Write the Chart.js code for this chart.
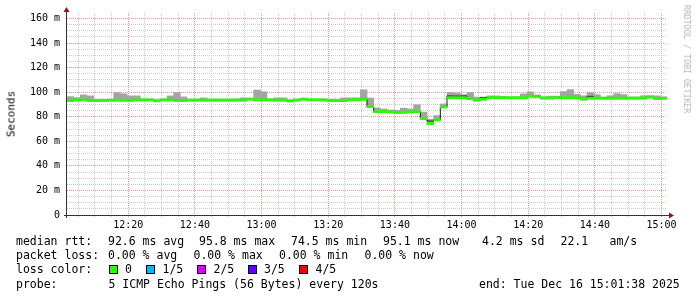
<!DOCTYPE html>
<html>
<head>
<meta charset="utf-8">
<script src="https://cdn.jsdelivr.net/npm/chart.js@4.4.1/dist/chart.umd.min.js"></script>
<style>
body { margin: 0; background: #fff; }
#wrap { position: relative; width: 697px; height: 297px; overflow: hidden; background: #fff; }
.txt { position: absolute; font-family: 'DejaVu Sans Mono', monospace; font-size: 11.5px; line-height: 14px; color: #000; white-space: pre; }
.box { position: absolute; width: 7px; height: 7px; border: 1px solid #000; }
#ylabel { position: absolute; left: 11px; top: 114px; transform: translate(-50%, -50%) rotate(-90deg); font-family: 'DejaVu Sans Mono', monospace; font-size: 11px; color: #000; white-space: pre; }
#mark { position: absolute; left: 687px; top: 59px; transform: translate(-50%, -50%) rotate(90deg); font-family: 'DejaVu Sans Mono', monospace; font-size: 8.2px; color: #b4b4b4; white-space: pre; }
</style>
</head>
<body>
<div id="wrap">
  <canvas id="chart" width="697" height="297"></canvas>
  <div id="ylabel">Seconds</div>
  <div id="mark">RRDTOOL / TOBI OETIKER</div>
</div>
<script>
// 5 pings every 120s, 3 hours ending 15:01:38 (x in minutes after 12:00)
const startMinute = 1 + 38 / 60;
const stepMinutes = 2;

const median = [
    93.3, 93.8, 93.8, 93.3, 93.3, 93.3, 93.5, 93.5, 93.5, 93.3,
    93.8, 93.8, 93.8, 93.0, 93.8, 93.8, 93.3, 93.3, 93.6, 93.6,
    93.6, 93.6, 93.6, 93.6, 93.6, 93.6, 93.6, 94.4, 93.8, 93.8,
    93.8, 93.6, 93.6, 92.9, 93.6, 94.4, 93.8, 93.8, 93.8, 93.2,
    93.2, 93.2, 93.8, 93.8, 94.3, 88.3, 84.2, 84.2, 84.0, 83.5,
    83.7, 84.0, 84.2, 78.5, 74.5, 77.5, 88.0, 95.5, 95.5, 95.5,
    94.8, 93.6, 94.4, 95.7, 95.6, 95.5, 95.5, 95.5, 95.5, 96.8,
    96.6, 95.3, 95.3, 95.8, 95.5, 95.5, 95.5, 94.4, 95.2, 95.3,
    95.2, 95.2, 95.2, 95.2, 95.3, 95.3, 95.3, 96.2, 94.8, 95.1
];

const darkLine = [
    93.3, 93.8, 93.8, 93.3, 93.3, 93.3, 93.5, 93.5, 93.5, 93.3,
    93.8, 93.8, 93.8, 93.0, 93.8, 93.8, 93.3, 93.3, 93.6, 93.6,
    93.6, 93.6, 93.6, 93.6, 93.6, 93.6, 93.6, 94.4, 93.8, 93.8,
    93.8, 93.6, 93.6, 92.9, 93.6, 94.4, 93.8, 93.8, 93.8, 93.2,
    93.2, 93.2, 93.8, 93.8, 94.3, 88.3, 84.2, 84.2, 84.0, 83.5,
    83.7, 84.0, 84.2, 78.5, 76.5, 77.5, 88.0, 96.9, 96.8, 96.9,
    94.3, 93.6, 95.8, 95.7, 95.6, 95.5, 95.5, 95.5, 95.5, 96.8,
    96.6, 95.3, 95.3, 95.8, 95.5, 95.5, 95.5, 94.4, 96.6, 95.3,
    95.2, 95.2, 95.2, 95.2, 95.3, 95.3, 95.3, 96.2, 94.8, 95.1
];

const smokeMax = [
    96.4, 95.6, 97.8, 97.0, 93.9, 93.9, 94.0, 99.7, 98.7, 97.0,
    97.0, 94.3, 94.3, 93.8, 94.3, 97.0, 99.7, 96.2, 94.2, 94.2,
    95.4, 94.2, 94.0, 94.0, 94.0, 94.5, 95.4, 95.0, 101.8, 100.3,
    94.3, 95.4, 95.4, 93.8, 94.2, 95.0, 94.3, 94.3, 94.3, 94.0,
    94.0, 95.4, 95.4, 95.4, 102.0, 95.3, 87.1, 86.3, 85.5, 85.3,
    87.0, 86.3, 89.8, 83.8, 77.9, 81.0, 90.4, 99.8, 99.3, 98.0,
    99.8, 96.0, 95.3, 97.0, 97.0, 96.5, 96.2, 96.2, 98.6, 100.3,
    97.8, 96.3, 96.8, 96.8, 100.5, 102.1, 98.2, 97.1, 99.7, 98.0,
    95.9, 97.1, 98.8, 98.1, 96.0, 96.0, 97.1, 97.1, 97.0, 96.2
];

const smokeMin = [
    92.5, 93.0, 93.0, 92.5, 92.5, 92.5, 92.7, 92.7, 92.7, 92.5,
    93.0, 93.0, 93.0, 92.2, 93.0, 93.0, 92.5, 92.5, 92.8, 92.8,
    92.8, 92.8, 92.8, 92.8, 92.8, 92.8, 92.8, 93.6, 93.0, 93.0,
    93.0, 92.8, 92.8, 92.1, 92.8, 93.6, 93.0, 93.0, 93.0, 92.4,
    92.4, 92.4, 93.0, 93.0, 93.5, 87.5, 83.4, 83.4, 83.2, 82.7,
    82.9, 83.2, 83.4, 77.7, 73.7, 76.7, 87.2, 94.7, 94.7, 94.7,
    94.0, 92.8, 93.6, 94.9, 94.8, 94.7, 94.7, 94.7, 94.7, 96.0,
    95.8, 94.5, 94.5, 95.0, 94.7, 94.7, 94.7, 93.6, 94.4, 94.5,
    94.4, 94.4, 94.4, 94.4, 94.5, 94.5, 94.5, 95.4, 94.0, 94.3
];

const xTickMinutes = [20, 40, 60, 80, 100, 120, 140, 160, 180];
const xTickLabels = ['12:20', '12:40', '13:00', '13:20', '13:40', '14:00', '14:20', '14:40', '15:00'];
const yTickValues = [0, 20, 40, 60, 80, 100, 120, 140, 160];
const yTickLabels = ['0', '20 m', '40 m', '60 m', '80 m', '100 m', '120 m', '140 m', '160 m'];

const lossColors = ['#26ff00', '#00b8ff', '#dd00ff', '#5e00ff', '#ff0000'];
const lossLabels = ['0', '1/5', '2/5', '3/5', '4/5'];

const FONT = "'DejaVu Sans Mono', monospace";
const MAJOR_GRID = '#ec9494';
const MINOR_GRID = '#cccccc';
const BAND = 0.85;

function stepCenter(i) {
    return startMinute + stepMinutes * (i + 0.5);
}

function minorTicks(from, to, step) {
    const list = [];
    for (let v = from; v <= to; v += step) list.push({ value: v });
    return list;
}

function isMajor(ctx, major) {
    return !!ctx.tick && Math.round(ctx.tick.value) % major === 0;
}

const axisArrows = {
    id: 'axisArrows',
    afterDatasetsDraw(chart) {
        const { ctx, chartArea: a } = chart;
        const y0 = Math.round(a.bottom) + 0.5;
        const x0 = Math.round(a.left) - 0.5;
        ctx.save();
        ctx.strokeStyle = '#333';
        ctx.lineWidth = 1;
        ctx.beginPath();
        ctx.moveTo(a.left - 3, y0);
        ctx.lineTo(a.right + 2, y0);
        ctx.moveTo(x0, a.bottom + 3);
        ctx.lineTo(x0, a.top - 1);
        ctx.stroke();
        ctx.fillStyle = '#8b1a1a';
        ctx.beginPath();
        ctx.moveTo(x0, a.top - 6);
        ctx.lineTo(x0 - 3, a.top - 1);
        ctx.lineTo(x0 + 3, a.top - 1);
        ctx.closePath();
        ctx.fill();
        ctx.beginPath();
        ctx.moveTo(a.right + 7, y0);
        ctx.lineTo(a.right + 2, y0 - 3);
        ctx.lineTo(a.right + 2, y0 + 3);
        ctx.closePath();
        ctx.fill();
        ctx.restore();
    }
};

function addText(text, x, y) {
    const el = document.createElement('div');
    el.className = 'txt';
    el.textContent = text;
    el.style.left = x + 'px';
    el.style.top = (y - 7) + 'px';
    document.getElementById('wrap').appendChild(el);
}

function addBox(color, x, y) {
    const el = document.createElement('div');
    el.className = 'box';
    el.style.background = color;
    el.style.left = x + 'px';
    el.style.top = (y - 4.5) + 'px';
    document.getElementById('wrap').appendChild(el);
}

function drawLegend() {
    addText('median rtt:', 16, 241);
    addText('92.6 ms avg', 108, 241);
    addText('95.8 ms max', 199, 241);
    addText('74.5 ms min', 291, 241);
    addText('95.1 ms now', 383, 241);
    addText('4.2 ms sd', 482, 241);
    addText('22.1', 560.5, 241);
    addText('am/s', 609.5, 241);

    addText('packet loss:', 16, 255);
    addText('0.00 % avg', 108, 255);
    addText('0.00 % max', 193.5, 255);
    addText('0.00 % min', 279, 255);
    addText('0.00 % now', 364.5, 255);

    addText('loss color:', 16, 269);
    const boxX = [108.5, 146, 197, 247.5, 299];
    lossColors.forEach((c, i) => {
        addBox(c, boxX[i], 269);
        addText(lossLabels[i], boxX[i] + 16.5, 269);
    });

    addText('probe:', 16, 284);
    addText('5 ICMP Echo Pings (56 Bytes) every 120s', 108.5, 284);
    addText('end: Tue Dec 16 15:01:38 2025', 479, 284);
}

function drawChart() {
    const ctx = document.getElementById('chart').getContext('2d');

    new Chart(ctx, {
        type: 'bar',
        data: {
            datasets: [{
                label: 'smoke',
                data: median.map((m, i) => ({ x: stepCenter(i), y: [smokeMin[i], smokeMax[i]] })),
                backgroundColor: '#a4a4a4',
                borderWidth: 0,
                barPercentage: 1,
                categoryPercentage: 1,
                grouped: false,
                order: 3
            }, {
                type: 'line',
                label: 'median line',
                data: darkLine.map((v, i) => ({ x: stepCenter(i), y: v })),
                borderColor: '#1c1c1c',
                borderWidth: 1,
                stepped: 'middle',
                pointRadius: 0,
                fill: false,
                order: 2
            }, {
                label: 'median rtt',
                data: median.map((m, i) => ({ x: stepCenter(i), y: [m - BAND, m + BAND] })),
                backgroundColor: lossColors[0],
                borderWidth: 0,
                barPercentage: 1,
                categoryPercentage: 1,
                grouped: false,
                order: 1
            }]
        },
        options: {
            responsive: false,
            animation: false,
            devicePixelRatio: 1,
            layout: { padding: { top: 13, right: 30, left: 0, bottom: 0 } },
            plugins: {
                legend: { display: false },
                tooltip: { enabled: false }
            },
            scales: {
                x: {
                    type: 'linear',
                    min: startMinute,
                    max: startMinute + 180,
                    offset: false,
                    afterBuildTicks: (scale) => { scale.ticks = minorTicks(5, 180, 5); },
                    afterFit: (scale) => { scale.height = 82; },
                    grid: {
                        offset: false,
                        color: (c) => isMajor(c, 20) ? MAJOR_GRID : MINOR_GRID,
                        tickColor: (c) => isMajor(c, 20) ? MAJOR_GRID : MINOR_GRID,
                        drawTicks: true,
                        tickLength: 2
                    },
                    border: { display: false, dash: [1, 1] },
                    ticks: {
                        autoSkip: false,
                        maxRotation: 0,
                        padding: 2,
                        color: '#000',
                        font: { family: FONT, size: 10 },
                        callback: (v) => {
                            const k = xTickMinutes.indexOf(v);
                            return k >= 0 ? xTickLabels[k] : '';
                        }
                    }
                },
                y: {
                    min: 0,
                    max: 164.5,
                    afterBuildTicks: (scale) => { scale.ticks = minorTicks(0, 160, 5); },
                    afterFit: (scale) => { scale.width = 67; },
                    grid: {
                        color: (c) => isMajor(c, 20) ? MAJOR_GRID : MINOR_GRID,
                        drawTicks: false
                    },
                    border: { display: false, dash: [1, 1] },
                    ticks: {
                        autoSkip: false,
                        padding: 7,
                        color: '#000',
                        font: { family: FONT, size: 10 },
                        callback: (v) => {
                            const k = yTickValues.indexOf(v);
                            return k >= 0 ? yTickLabels[k] : '';
                        }
                    }
                }
            }
        },
        plugins: [axisArrows]
    });
}

document.addEventListener('DOMContentLoaded', function() {
    drawChart();
    drawLegend();
});
</script>
</body>
</html>
